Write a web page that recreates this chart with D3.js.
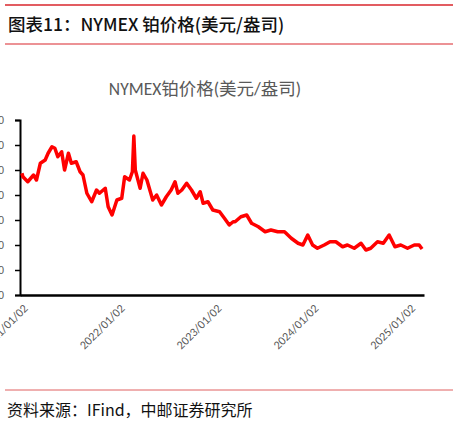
<!DOCTYPE html>
<html><head><meta charset="utf-8">
<script src="https://cdn.jsdelivr.net/npm/d3@7/dist/d3.min.js"></script>
<style>body{margin:0;background:#fff}svg{display:block}</style>
</head><body>
<script>
const years=[2021.0,2021.01,2021.06,2021.12,2021.15,2021.19,2021.24,2021.27,2021.31,2021.34,2021.37,2021.41,2021.44,2021.48,2021.51,2021.56,2021.60,2021.63,2021.67,2021.72,2021.77,2021.80,2021.86,2021.89,2021.93,2021.98,2022.03,2022.06,2022.11,2022.14,2022.155,2022.17,2022.22,2022.25,2022.29,2022.32,2022.35,2022.39,2022.44,2022.49,2022.54,2022.58,2022.61,2022.65,2022.70,2022.75,2022.80,2022.84,2022.87,2022.92,2022.97,2023.04,2023.09,2023.14,2023.18,2023.20,2023.26,2023.32,2023.37,2023.44,2023.51,2023.57,2023.64,2023.71,2023.78,2023.85,2023.90,2023.95,2024.00,2024.05,2024.12,2024.18,2024.24,2024.31,2024.36,2024.43,2024.50,2024.55,2024.60,2024.67,2024.73,2024.79,2024.85,2024.91,2024.98,2025.05,2025.10,2025.13];
const prices=[974,946,906,960,920,1054,1080,1134,1186,1174,1106,1146,1000,1134,1054,1066,986,960,814,746,840,814,854,706,640,760,774,946,920,986,1272,1000,854,974,920,840,760,800,720,786,840,906,814,840,894,840,774,826,734,746,680,666,614,560,586,586,626,640,574,546,506,520,506,506,454,414,400,480,400,374,400,426,426,386,400,374,414,360,374,426,414,480,386,400,374,400,400,368];
const yTicks=[0,200,400,600,800,1000,1200,1400];
const xTicks=[2021,2022,2023,2024,2025];
const xTickLabels=["2021/01/02","2022/01/02","2023/01/02","2024/01/02","2025/01/02"];

const svg=d3.select("body").append("svg").attr("width",459).attr("height",426);
const f='"Noto Sans CJK SC","Noto Sans",sans-serif';
svg.append("line").attr("x1",5).attr("x2",453).attr("y1",5).attr("y2",5).attr("stroke","#d9262c").attr("stroke-width",1.5);
svg.append("line").attr("x1",5).attr("x2",453).attr("y1",44).attr("y2",44).attr("stroke","#d9262c").attr("stroke-width",1.2);
svg.append("text").attr("x",8).attr("y",31).attr("font-family",f).attr("font-size",17.5).attr("font-weight",500).attr("fill","#111").text("图表11：NYMEX 铂价格(美元/盎司)");
svg.append("text").attr("x",205).attr("y",95).attr("text-anchor","middle").attr("font-family","Calibri,'Liberation Sans','Noto Sans CJK SC',sans-serif").attr("font-size",17.5).attr("fill","#595959").text("NYMEX铂价格(美元/盎司)");

const x=d3.scaleLinear().domain([2020.98,2025.15]).range([20,424]);
const y=d3.scaleLinear().domain([0,1400]).range([295,120]);

const ya=svg.append("g").attr("transform","translate(20,0)").call(d3.axisLeft(y).tickValues(yTicks).tickSize(5).tickPadding(3));
ya.select(".domain").attr("stroke","#000").attr("stroke-width",2);
ya.selectAll(".tick line").attr("stroke","#000").attr("stroke-width",1.5);
ya.selectAll("text").attr("font-size",11).attr("fill","#595959").attr("x",-16);

const xa=svg.append("g").attr("transform","translate(0,295)").call(d3.axisBottom(x).tickValues(xTicks).tickSize(0).tickFormat((d,i)=>xTickLabels[i]));
xa.select(".domain").attr("stroke","#000").attr("stroke-width",2.5);
xa.selectAll("text").attr("font-family","Calibri,'Liberation Sans',sans-serif").attr("font-size",12).attr("fill","#595959")
  .attr("text-anchor","end").attr("dy",0).attr("transform","translate(4,12) rotate(-45)");

const line=d3.line().x((d,i)=>x(years[i])).y(d=>y(d));
svg.append("path").datum(prices).attr("d",line).attr("fill","none").attr("stroke","#ff0000").attr("stroke-width",3.5).attr("stroke-linejoin","round");

svg.append("line").attr("x1",5).attr("x2",453).attr("y1",390).attr("y2",390).attr("stroke","#e06060").attr("stroke-width",1);
svg.append("text").attr("x",7).attr("y",416).attr("font-family",f).attr("font-size",16).attr("fill","#111").text("资料来源：IFind，中邮证券研究所");
</script>
</body></html>
